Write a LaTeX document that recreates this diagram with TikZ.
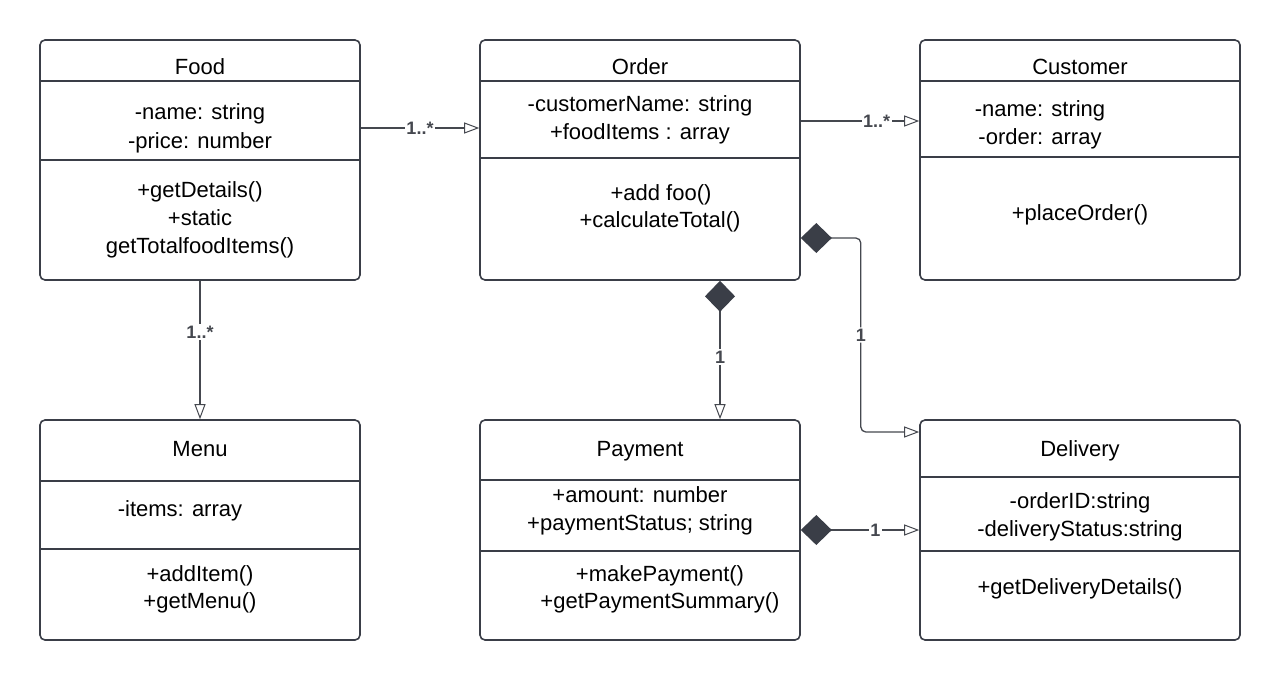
\documentclass[tikz,border=0pt]{standalone}
\usepackage{fontspec}
\setmainfont{Liberation Sans}
\usetikzlibrary{arrows.meta}
\definecolor{edge}{HTML}{3A3E47}
\definecolor{conn}{HTML}{45484F}
\tikzset{
  classbox/.style={draw=edge, line width=1.6pt, rounded corners=5pt, minimum width=320pt, minimum height=240pt, inner sep=0pt},
  classbox2/.style={classbox, minimum height=220pt},
  divider/.style={draw=edge, line width=1.6pt},
  txt/.style={font=\fontsize{22}{28}\selectfont, align=center, inner sep=0pt, anchor=base},
  conn/.style={draw=conn, line width=1.3pt},
  gen/.style={conn, -{Triangle[open, length=15pt, width=11pt, line width=1pt]}},
  comp/.style={conn, {Diamond[length=31pt, width=30pt, fill=edge, color=edge]}-{Triangle[open, length=15pt, width=11pt, line width=1pt]}},
  mult/.style={fill=white, text=conn, font=\fontsize{18}{18}\selectfont\bfseries, inner sep=1.5pt}
}
\begin{document}
\begin{tikzpicture}[x=1pt, y=-1pt]
\useasboundingbox (0,0) rectangle (1280,680);
% boxes
\node[classbox] (food) at (200,160) {};
\node[classbox] (order) at (640,160) {};
\node[classbox] (customer) at (1080,160) {};
\node[classbox2] (menu) at (200,530) {};
\node[classbox2] (payment) at (640,530) {};
\node[classbox2] (delivery) at (1080,530) {};
% dividers
\draw[divider] (40,81) -- (360,81) (40,160) -- (360,160);
\draw[divider] (480,81) -- (800,81) (480,158) -- (800,158);
\draw[divider] (920,81) -- (1240,81) (920,157) -- (1240,157);
\draw[divider] (40,481) -- (360,481) (40,549) -- (360,549);
\draw[divider] (480,480) -- (800,480) (480,551) -- (800,551);
\draw[divider] (920,477) -- (1240,477) (920,551) -- (1240,551);
% Food
\node[txt] (foodT) at (200,74) {Food};
\node[txt] (foodA1) at (200,119) {-name: string};
\node[txt] (foodA2) at (200,148) {-price: number};
\node[txt] (foodM1) at (200,197) {+getDetails()};
\node[txt] (foodM2) at (200,225) {+static};
\node[txt] (foodM3) at (200,253) {getTotalfoodItems()};
% Order
\node[txt] (orderT) at (640,74) {Order};
\node[txt] (orderA1) at (640,111) {-customerName: string};
\node[txt] (orderA2) at (640,139) {+foodItems : array};
\node[txt] (orderM1) at (661,200) {+add foo()};
\node[txt] (orderM2) at (660,227) {+calculateTotal()};
% Customer
\node[txt] (custT) at (1080,74) {Customer};
\node[txt] (custA1) at (1040,116) {-name: string};
\node[txt] (custA2) at (1040,144) {-order: array};
\node[txt] (custM1) at (1080,220) {+placeOrder()};
% Menu
\node[txt] (menuT) at (200,456) {Menu};
\node[txt] (menuA1) at (180,516) {-items: array};
\node[txt] (menuM1) at (200,581) {+addItem()};
\node[txt] (menuM2) at (200,608) {+getMenu()};
% Payment
\node[txt] (payT) at (640,456) {Payment};
\node[txt] (payA1) at (640,502) {+amount: number};
\node[txt] (payA2) at (640,530) {+paymentStatus; string};
\node[txt] (payM1) at (660,581) {+makePayment()};
\node[txt] (payM2) at (660,608) {+getPaymentSummary()};
% Delivery
\node[txt] (delT) at (1080,456) {Delivery};
\node[txt] (delA1) at (1080,508) {-orderID:string};
\node[txt] (delA2) at (1080,536) {-deliveryStatus:string};
\node[txt] (delM1) at (1080,594) {+getDeliveryDetails()};
% connectors
\draw[gen] ([yshift=32pt]food.east) -- node[mult, pos=0.5] {1..*} ([yshift=32pt]order.west);
\draw[gen] ([yshift=39pt]order.east) -- node[mult, pos=0.64] {1..*} ([yshift=39pt]customer.west);
\draw[gen] (food.south) -- node[mult, pos=0.37] {1..*} (menu.north);
\draw[comp] ([xshift=80pt]order.south) -- node[mult, pos=0.55] {1} ([xshift=80pt]payment.north);
\draw[comp, rounded corners=5pt] ([yshift=-78pt]order.east) -- ++(60,0) |- node[mult, pos=0.25] {1} ([yshift=98pt]delivery.west);
\draw[comp] (payment.east) -- node[mult, pos=0.63] {1} (delivery.west);
\end{tikzpicture}
\end{document}
